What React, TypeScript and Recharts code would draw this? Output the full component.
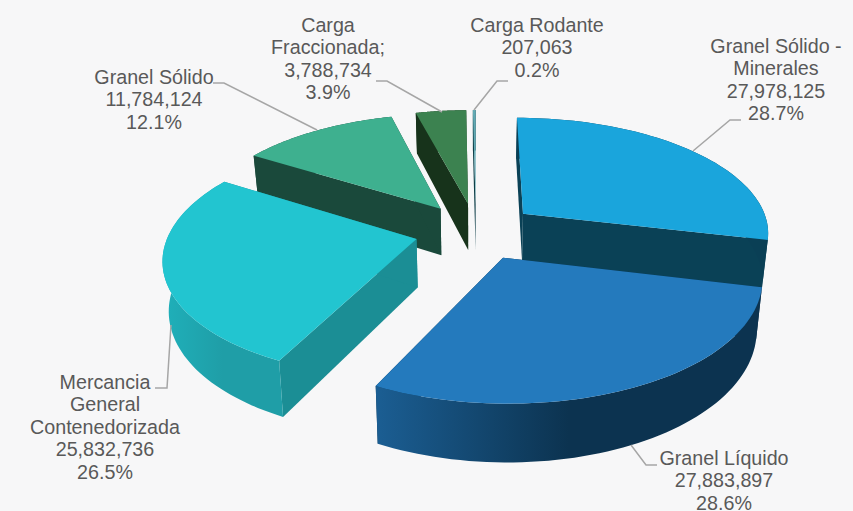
// Exploded 3D pie: Recharts computes the sector angles, the shape projects them in perspective.
import { PieChart, Pie } from 'recharts';

const categories = [
  'Granel Sólido - Minerales',
  'Granel Líquido',
  'Mercancia General Contenedorizada',
  'Granel Sólido',
  'Carga Fraccionada;',
  'Carga Rodante',
];
const tonnes = [27978125, 27883897, 25832736, 11784124, 3788734, 207063];
const labelLines = [
  ['Granel Sólido -', 'Minerales'],
  ['Granel Líquido'],
  ['Mercancia', 'General', 'Contenedorizada'],
  ['Granel Sólido'],
  ['Carga', 'Fraccionada;'],
  ['Carga Rodante'],
];

// styling, same order as categories
const topColors = ['#1aa5dc', '#247abd', '#22c5d0', '#3eb08f', '#3c8250', '#62aab4'];
const sideColors = ['#0a4156', '#0c3350', '#1b8e95', '#1a493b', '#17331b', '#0f3f48'];
const wallStops = [
  ['#0a3f55', '#0a3f55'],
  ['#1b5e93', '#0c3350', '#0c3350'],
  ['#1fb0ba', '#1f9ea7', '#1f9ea7'],
  ['#1a493b', '#1a493b'],
  ['#17331b', '#17331b'],
  ['#0f3f48', '#0f3f48'],
];
// label centre x, first line centre y, leader line
const labelBoxes = [
  { x: 776, y: 46, line: '741,120 730,120 693,151' },
  { x: 724, y: 458, line: '657,465 646,465 631,445' },
  { x: 105, y: 382, line: '155,388 167,388 171,325' },
  { x: 154, y: 77, line: '213,83 224,83 317,130' },
  { x: 328, y: 25, line: '376,81 387,81 442,112' },
  { x: 537, y: 25, line: '508,81 497,81 474,110' },
];

const EXPLODE = 0.248;
const TILT = 0.466;
const PERSPECTIVE = 0.15;
const DEPTH = 48;
const BASE_SHRINK = 0.02; // verticals converge downwards, camera sits above the pie
const LINE_HEIGHT = 22.4;

// the back slices must paint first, so the ring starts at Granel Sólido
const firstDrawn = 3;
const total = tonnes.reduce((a, b) => a + b, 0);
const before = tonnes.slice(0, firstDrawn).reduce((a, b) => a + b, 0);
const startAngle = 90 - (360 * before) / total;
const table = categories
  .map((name, i) => ({ name, value: tonnes[i], idx: i }))
  .slice(firstDrawn)
  .concat(categories.map((name, i) => ({ name, value: tonnes[i], idx: i })).slice(0, firstDrawn));

const rad = (d: number) => (d * Math.PI) / 180;

function Slice3D(props: any) {
  const { cx, cy, outerRadius: R, startAngle: a0, endAngle: a1, payload } = props;
  const idx = payload?.idx ?? props.idx;
  const mid = rad((a0 + a1) / 2);
  const ox = EXPLODE * Math.cos(mid);
  const oy = EXPLODE * Math.sin(mid);

  const project = (x: number, y: number, z: number) => {
    const X = x + ox;
    const Y = y + oy;
    const w = 1 / (1 + PERSPECTIVE * Y);
    const shrink = 1 - (BASE_SHRINK * z) / DEPTH;
    return [cx + R * X * w * shrink, cy - R * TILT * Y * w + z * w];
  };
  const arc = (z: number) => {
    const pts: number[][] = [];
    const steps = 60;
    for (let i = 0; i <= steps; i++) {
      const a = rad(a0 + ((a1 - a0) * i) / steps);
      pts.push(project(Math.cos(a), Math.sin(a), z));
    }
    return pts;
  };
  const toPath = (pts: number[][]) =>
    'M' + pts.map((p) => p[0].toFixed(2) + ' ' + p[1].toFixed(2)).join('L') + 'Z';

  const top = arc(0);
  const bottom = arc(DEPTH);
  const apex = project(0, 0, 0);
  const apexLow = project(0, 0, DEPTH);
  const last = top.length - 1;
  const gradId = 'wall' + idx;
  const stops = wallStops[idx];

  return (
    <g>
      <defs>
        <linearGradient id={gradId} x1="0" y1="0" x2="1" y2="0">
          {stops.map((c, i) => (
            <stop key={i} offset={i / (stops.length - 1)} stopColor={c} />
          ))}
        </linearGradient>
      </defs>
      <path d={toPath([apex, top[0], bottom[0], apexLow])} fill={sideColors[idx]} />
      <path d={toPath([apex, top[last], bottom[last], apexLow])} fill={sideColors[idx]} />
      <path d={toPath([...top, ...bottom.slice().reverse()])} fill={`url(#${gradId})`} />
      <path d={toPath([apex, ...top])} fill={topColors[idx]} />
    </g>
  );
}

function SliceLabel(props: any) {
  const idx = props.payload?.idx ?? props.idx;
  const box = labelBoxes[idx];
  const lines = [
    ...labelLines[idx],
    tonnes[idx].toLocaleString('en-US'),
    ((tonnes[idx] / total) * 100).toFixed(1) + '%',
  ];
  return (
    <g>
      <polyline points={box.line} fill="none" stroke="#a6a6a6" strokeWidth={1.5} />
      <text textAnchor="middle" fontFamily="'Liberation Sans', Arial, sans-serif" fontSize={19.7} fill="#595959">
        {lines.map((t, i) => (
          <tspan key={i} x={box.x} y={box.y + i * LINE_HEIGHT} dominantBaseline="central">
            {t}
          </tspan>
        ))}
      </text>
    </g>
  );
}

export default function App() {
  return (
    <div style={{ position: 'fixed', left: 0, top: 0, width: 853, height: 511, background: '#f7f7f8' }}>
      <PieChart width={853} height={511} margin={{ top: 0, right: 0, bottom: 0, left: 0 }}>
        <Pie
          data={table}
          dataKey="value"
          nameKey="name"
          cx={476}
          cy={231}
          outerRadius={247}
          startAngle={startAngle}
          endAngle={startAngle - 360}
          stroke="none"
          shape={Slice3D}
          label={SliceLabel}
          labelLine={false}
          isAnimationActive={false}
        />
      </PieChart>
    </div>
  );
}
